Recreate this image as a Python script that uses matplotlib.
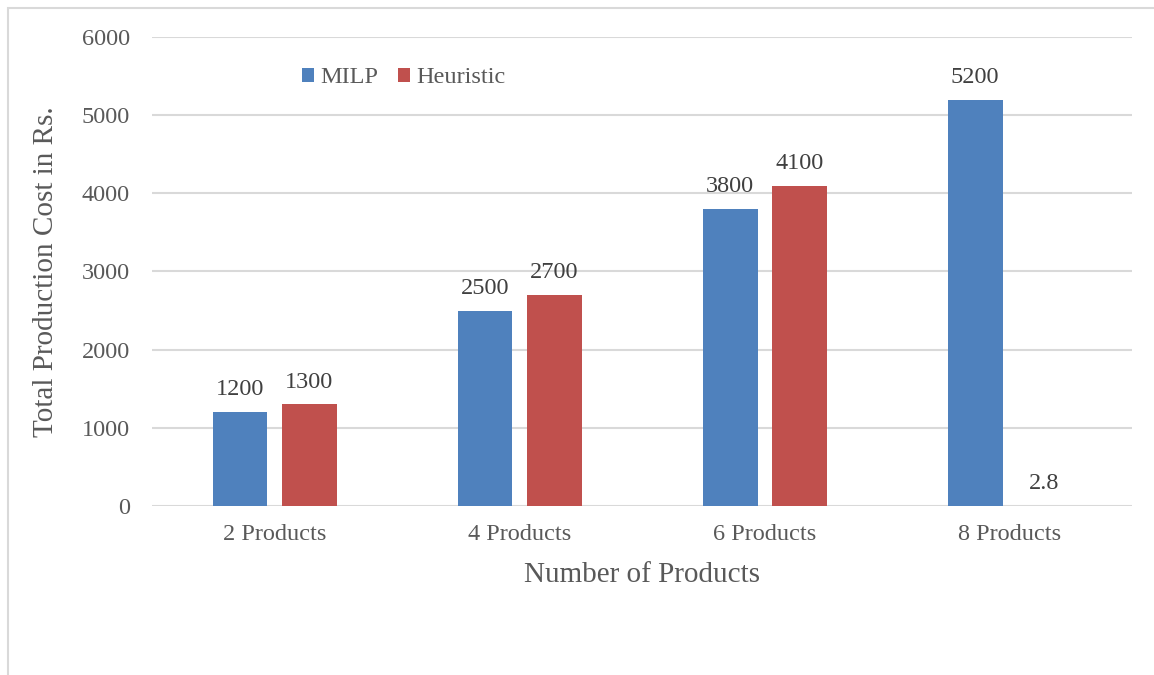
import numpy as np
import matplotlib.pyplot as plt
from matplotlib.patches import Rectangle

# data
categories = ["2 Products", "4 Products", "6 Products", "8 Products"]
milp = [1200, 2500, 3800, 5200]
heuristic = [1300, 2700, 4100, 2.8]
yticks = [0, 1000, 2000, 3000, 4000, 5000, 6000]

plt.rcParams["font.family"] = ["Liberation Serif", "DejaVu Serif"]

blue = "#4F81BD"
red = "#C0504D"
grid_col = "#D9D9D9"
txt_col = "#595959"
lbl_col = "#404040"

fig = plt.figure(figsize=(11.54, 6.75), dpi=100)
ax = fig.add_axes([0.1317, 0.2504, 0.8495, 0.6948])

# outer chart border (only left and top visible in the reference)
fig.patches.append(Rectangle((8 / 1154, -0.1), 1.2, 1 - 8 / 675 + 0.1,
                             transform=fig.transFigure, fill=False,
                             edgecolor=grid_col, linewidth=1.5))

x = np.arange(len(categories))
width = 0.224
offset = 0.141

b1 = ax.bar(x - offset, milp, width, color=blue, label="MILP", zorder=3)
b2 = ax.bar(x + offset, heuristic, width, color=red, label="Heuristic", zorder=3)

for bars in (b1, b2):
    for rect in bars:
        h = rect.get_height()
        lab = f"{h:g}"
        ax.annotate(lab, (rect.get_x() + rect.get_width() / 2, h),
                    xytext=(0, 8.5), textcoords="offset points",
                    ha="center", va="bottom", fontsize=17.5, color=lbl_col)

ax.set_xlim(-0.5, len(categories) - 0.5)
ax.set_ylim(0, 6000)
ax.set_yticks(yticks)
ax.set_xticks(x)
ax.set_xticklabels(categories)
ax.tick_params(axis="both", length=0, labelsize=17.5, labelcolor=txt_col)
ax.tick_params(axis="y", pad=16)
ax.tick_params(axis="x", pad=13)

ax.grid(axis="y", color=grid_col, linewidth=1.5, zorder=0)
ax.set_axisbelow(True)
for s in ax.spines.values():
    s.set_visible(False)

ax.set_xlabel("Number of Products", fontsize=21, color=txt_col, labelpad=12)
ax.set_ylabel("Total Production Cost in Rs.", fontsize=21, color=txt_col, labelpad=16)

ax.legend(loc="center left", bbox_to_anchor=(0.131, 0.9126), ncol=2, frameon=False,
          fontsize=17.5, labelcolor=txt_col, handlelength=0.5, handleheight=0.5,
          handletextpad=0.25, columnspacing=0.8)

fig.savefig("out.png", dpi=100)
